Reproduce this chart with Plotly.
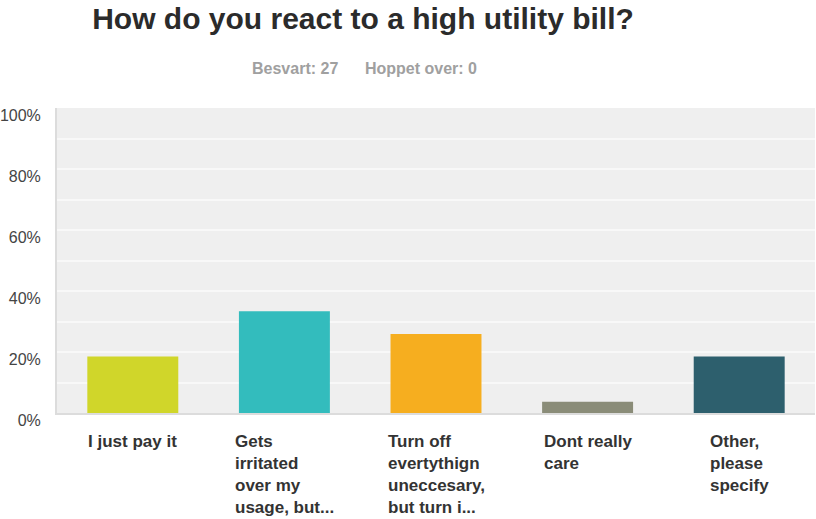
import plotly.graph_objects as go

categories = ["I just pay it", "Gets irritated over my usage, but...",
              "Turn off evertythign uneccesary, but turn i...",
              "Dont really care", "Other, please specify"]
category_labels = ["I just pay it", "Gets<br>irritated<br>over my<br>usage, but...",
                   "Turn off<br>evertythign<br>uneccesary,<br>but turn i...",
                   "Dont really<br>care", "Other,<br>please<br>specify"]
values = [18.52, 33.33, 25.93, 3.70, 18.52]
colors = ["#D0D62A", "#33BCBD", "#F6AE1F", "#8A8C78", "#2D5F6D"]
grid_vals = [0, 10, 20, 30, 40, 50, 60, 70, 80, 90, 100]
grid_text = ["0%", "", "20%", "", "40%", "", "60%", "", "80%", "", "100%"]

title = "How do you react to a high utility bill?"
subtitle = "Besvart: 27&nbsp;&nbsp;&nbsp;&nbsp;&nbsp;&nbsp;Hoppet over: 0"

FONT = "Liberation Sans, Arial, sans-serif"

W, H = 816, 519
ML, MR, MT, MB = 57, 1, 108, 106
plot_w = W - ML - MR
plot_h = H - MT - MB

fig = go.Figure(go.Bar(x=categories, y=values, marker=dict(color=colors, line=dict(width=0)),
                       width=0.6, hoverinfo="skip"))

annotations = []
for cat, lab in zip(categories, category_labels):
    annotations.append(dict(x=cat, y=0, xref="x", yref="paper", yanchor="top", xanchor="center",
                            yshift=-17, text=lab, align="left", showarrow=False,
                            font=dict(family=FONT, size=17, color="#333333", weight="bold")))
annotations.append(dict(x=(364 - ML) / plot_w, y=1 + (MT - 68) / plot_h, xref="paper", yref="paper",
                        xanchor="center", yanchor="middle",
                        text=subtitle, showarrow=False,
                        font=dict(family=FONT, size=16, color="#A0A0A0", weight="bold")))

fig.update_layout(
    width=W, height=H,
    margin=dict(l=ML, r=MR, t=MT, b=MB),
    paper_bgcolor="white", plot_bgcolor="#EFEFEF",
    showlegend=False,
    title=dict(text=title, x=363 / W, xanchor="center", y=1 - 18 / H, yanchor="middle",
               xref="container", yref="container",
               font=dict(family=FONT, size=30, color="#2B2B2B", weight="bold")),
    xaxis=dict(showticklabels=False, showgrid=False, showline=True, linecolor="#DCDCDC",
               linewidth=2, ticks="", fixedrange=True),
    yaxis=dict(range=[0, 100], tickvals=grid_vals, ticktext=grid_text, showgrid=True,
               gridcolor="#F8F8F8", gridwidth=2, zeroline=False, showline=True,
               linecolor="#DCDCDC", linewidth=2, ticks="", ticklabelstandoff=11,
               ticklabelshift=7,
               tickfont=dict(family=FONT, size=16, color="#444444")),
    annotations=annotations,
    bargap=0.4,
)
fig.write_html("out.html")
